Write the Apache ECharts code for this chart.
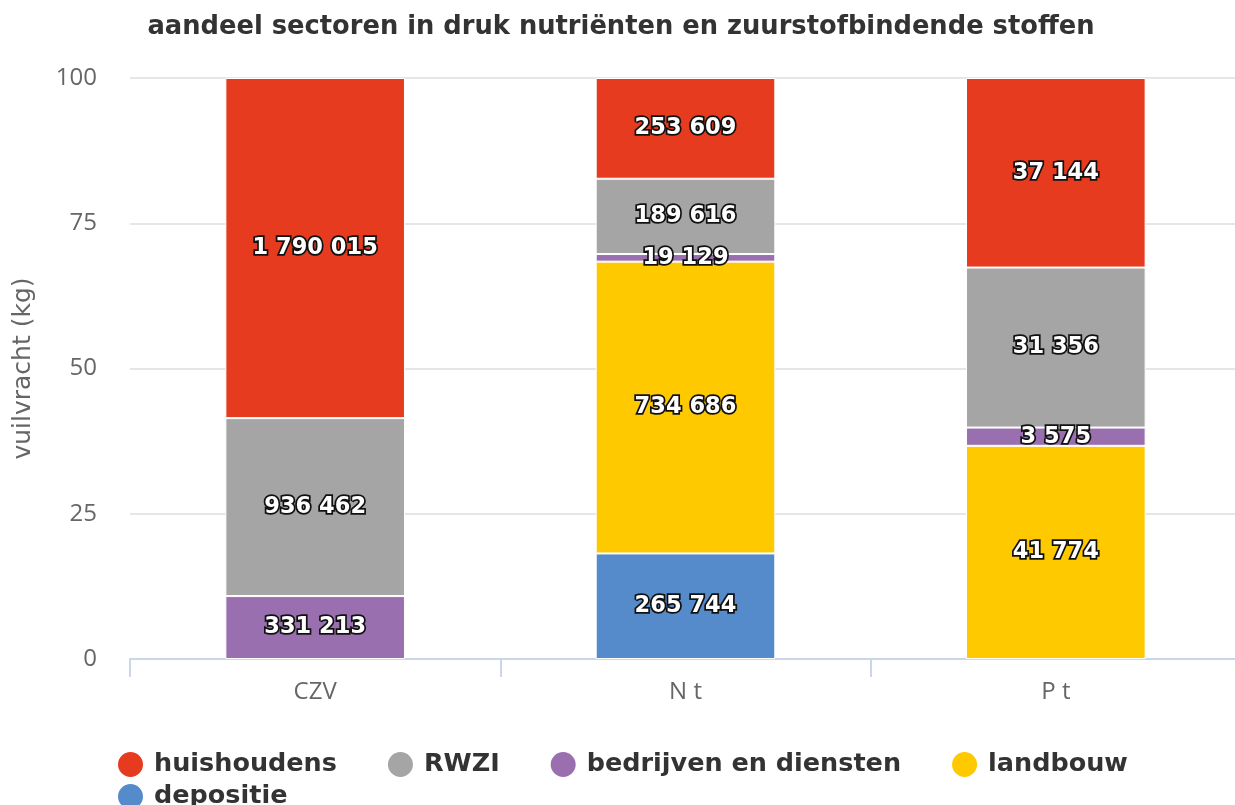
<!DOCTYPE html>
<html>
<head>
<meta charset="utf-8">
<script src="https://cdn.jsdelivr.net/npm/echarts@6/dist/echarts.min.js"></script>
<style>
  html, body { margin: 0; padding: 0; background: #fff; overflow: hidden; }
  #chart { width: 1241px; height: 805px; }
</style>
</head>
<body>
<div id="chart"></div>
<script>
// categorieën
const categories = ['CZV', 'N t', 'P t'];

// vuilvracht per sector (kg), volgorde zoals categories
const huishoudens = [1790015, 253609, 37144];
const rwzi = [936462, 189616, 31356];
const bedrijven = [331213, 19129, 3575];
const landbouw = [null, 734686, 41774];
const depositie = [null, 265744, null];

const yTicks = [0, 25, 50, 75, 100];

const colors = {
    huishoudens: '#e63b1f',
    rwzi: '#a6a5a5',
    bedrijven: '#9a6fb0',
    landbouw: '#ffc900',
    depositie: '#568bcb'
};

// totaal per categorie, om aandeel te berekenen
const totals = categories.map((c, i) =>
    [huishoudens, rwzi, bedrijven, landbouw, depositie].reduce((s, arr) => s + (arr[i] || 0), 0));

const fmt = v => String(v).replace(/\B(?=(\d{3})+(?!\d))/g, ' ');

const makeSeries = (name, values, color) => ({
    name: name,
    type: 'bar',
    stack: 'total',
    barWidth: '48.5%',
    itemStyle: { color: color, borderColor: '#fff', borderWidth: 1 },
    label: {
        show: true,
        position: 'inside',
        color: '#fff',
        fontFamily: 'DejaVu Sans',
        fontWeight: 'bold',
        fontSize: 22.5,
        textBorderColor: '#111',
        textBorderWidth: 3.5,
        formatter: p => fmt(values[p.dataIndex])
    },
    data: values.map((v, i) => v == null ? '-' : v / totals[i] * 100)
});

// canvas iets breder dan het venster: de plot loopt rechts net door tot buiten beeld
const chart = echarts.init(document.getElementById('chart'));

//bovenaan gestapeld: huishoudens
const series = [
    makeSeries('depositie', depositie, colors.depositie),
    makeSeries('landbouw', landbouw, colors.landbouw),
    makeSeries('bedrijven en diensten', bedrijven, colors.bedrijven),
    makeSeries('RWZI', rwzi, colors.rwzi),
    makeSeries('huishoudens', huishoudens, colors.huishoudens)
];

const legendBase = {
    icon: 'circle',
    left: 111,
    itemWidth: 27,
    itemHeight: 27,
    itemGap: 49,
    textStyle: { fontFamily: 'DejaVu Sans', fontWeight: 'bold', fontSize: 25.5, color: '#333', padding: [0, 0, 0, 5] }
};

chart.setOption({
    animation: false,
    textStyle: { fontFamily: 'Open Sans' },
    title: {
        text: 'aandeel sectoren in druk nutriënten en zuurstofbindende stoffen',
        left: 616,
        textAlign: 'center',
        top: 9,
        textStyle: { fontFamily: 'DejaVu Sans', fontWeight: 'bold', fontSize: 25.75, color: '#333' }
    },
    legend: [
        { ...legendBase, top: 745, data: ['huishoudens', 'RWZI', 'bedrijven en diensten', 'landbouw'] },
        { ...legendBase, top: 777, data: ['depositie'] }
    ],
    grid: { left: 130, right: 0, top: 78, bottom: 146 },
    xAxis: {
        type: 'category',
        data: categories,
        axisLine: { lineStyle: { color: '#ccd6eb', width: 2 } },
        axisTick: { show: true, length: 18, lineStyle: { color: '#ccd6eb', width: 2 } },
        axisLabel: { color: '#666', fontFamily: 'Open Sans', fontSize: 24, margin: 21 }
    },
    yAxis: {
        type: 'value',
        min: 0,
        max: 100,
        interval: 25,
        name: 'vuilvracht (kg)',
        nameLocation: 'middle',
        nameRotate: 90,
        nameGap: 94,
        nameTextStyle: { color: '#666', fontFamily: 'DejaVu Sans', fontSize: 25 },
        axisLabel: { color: '#666', fontFamily: 'Open Sans', fontSize: 24, margin: 33, formatter: v => yTicks.includes(v) ? String(v) : '' },
        splitLine: { lineStyle: { color: '#e6e6e6', width: 2 } }
    },
    series: series
});
</script>
</body>
</html>
